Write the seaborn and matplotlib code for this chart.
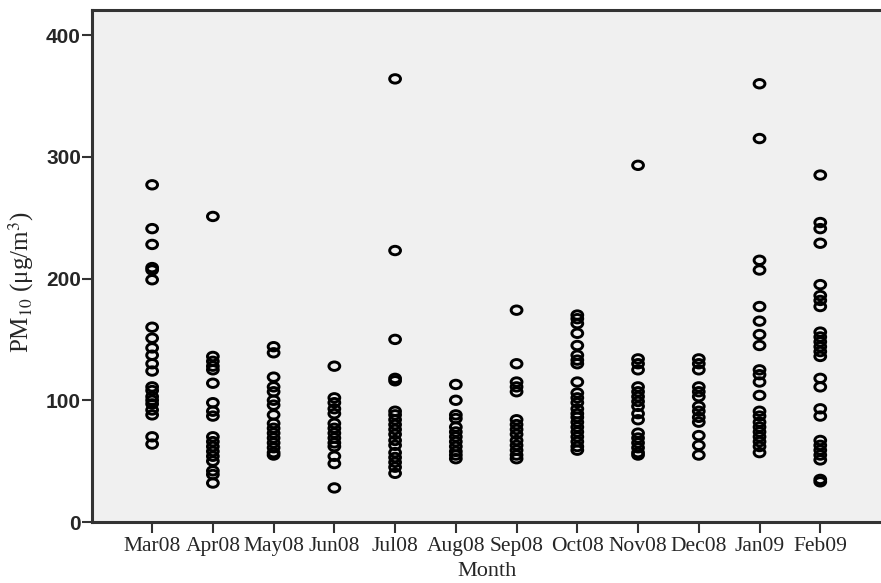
import matplotlib
matplotlib.use("Agg")
import matplotlib.pyplot as plt
from matplotlib.path import Path
import seaborn as sns
import pandas as pd

months = ["Mar08", "Apr08", "May08", "Jun08", "Jul08", "Aug08",
          "Sep08", "Oct08", "Nov08", "Dec08", "Jan09", "Feb09"]

mar08 = [277, 241, 228, 209, 207, 199, 160, 151, 143, 137, 130, 124, 111, 108, 103, 100, 97, 92, 88, 70, 64]
apr08 = [251, 136, 132, 128, 125, 114, 98, 91, 87, 70, 66, 62, 58, 54, 50, 42, 39, 32]
may08 = [144, 139, 119, 111, 107, 100, 96, 88, 81, 77, 73, 69, 65, 61, 57, 55]
jun08 = [128, 102, 98, 93, 89, 81, 77, 73, 69, 65, 62, 54, 48, 28]
jul08 = [364, 223, 150, 118, 116, 91, 88, 84, 80, 76, 72, 67, 63, 57, 53, 49, 45, 40]
aug08 = [113, 100, 88, 85, 78, 74, 70, 66, 62, 58, 55, 52]
sep08 = [174, 130, 115, 111, 107, 84, 80, 76, 72, 67, 63, 59, 55, 52]
oct08 = [170, 167, 163, 155, 145, 137, 133, 130, 115, 106, 102, 98, 93, 89, 86, 82, 78, 74, 70, 66, 62, 59]
nov08 = [293, 134, 130, 125, 111, 107, 103, 99, 95, 89, 84, 73, 69, 65, 61, 57, 55]
dec08 = [134, 130, 125, 111, 107, 103, 95, 91, 86, 82, 71, 63, 55]
jan09 = [360, 315, 215, 207, 177, 165, 154, 145, 125, 121, 115, 104, 91, 87, 82, 78, 74, 70, 66, 62, 57]
feb09 = [285, 246, 241, 229, 195, 186, 182, 177, 156, 152, 148, 144, 140, 136, 118, 111, 93, 87, 67, 63, 59, 55, 51, 35, 33]

series = [mar08, apr08, may08, jun08, jul08, aug08, sep08, oct08, nov08, dec08, jan09, feb09]
rows = []
for m, vals in zip(months, series):
    for v in vals:
        rows.append({"Month": m, "PM10": v})
df = pd.DataFrame(rows)

sns.set_style("white")
plt.rcParams["mathtext.fontset"] = "stix"

# slightly flattened circle marker
circ = Path.unit_circle()
ellipse = Path(circ.vertices * [1.0, 0.78], circ.codes)

fig = plt.figure(figsize=(8.81, 5.83), dpi=100)
ax = fig.add_axes([92 / 881, 61 / 583, 1 - 92 / 881, (522 - 9.5) / 583])
ax.set_facecolor("#f0f0f0")

sns.stripplot(data=df, x="Month", y="PM10", order=months, jitter=False,
              color="black", marker=ellipse, size=7.8, ax=ax)
for coll in ax.collections:
    coll.set_facecolor("none")
    coll.set_edgecolor("black")
    coll.set_linewidth(2.1)

ax.set_xlim(-0.99, 12.0)
ax.set_ylim(0, 421)
ax.set_yticks([0, 100, 200, 300, 400])
ax.set_yticklabels(["0", "100", "200", "300", "400"],
                   fontfamily="Liberation Sans", fontsize=15, fontweight="bold")
ax.set_xticks(range(len(months)))
ax.set_xticklabels(months, fontfamily="Liberation Serif", fontsize=15.5)

ax.tick_params(axis="x", bottom=True, direction="out", length=8, width=1.5,
               color="#333333", pad=3)
ax.tick_params(axis="y", left=True, direction="out", length=7, width=1.5,
               color="#333333", pad=1)

for side in ["left", "bottom", "top"]:
    ax.spines[side].set_visible(True)
    ax.spines[side].set_color("#333333")
    ax.spines[side].set_linewidth(2.2)
ax.spines["right"].set_visible(False)

ax.set_xlabel("Month", fontfamily="Liberation Serif", fontsize=16, labelpad=4)
ax.set_ylabel("PM$_{10}$ (μg/m$^{3}$)", fontfamily="Liberation Serif",
              fontsize=18)
ax.yaxis.set_label_coords(-0.071, 0.468)

fig.savefig("out.png", dpi=100)
